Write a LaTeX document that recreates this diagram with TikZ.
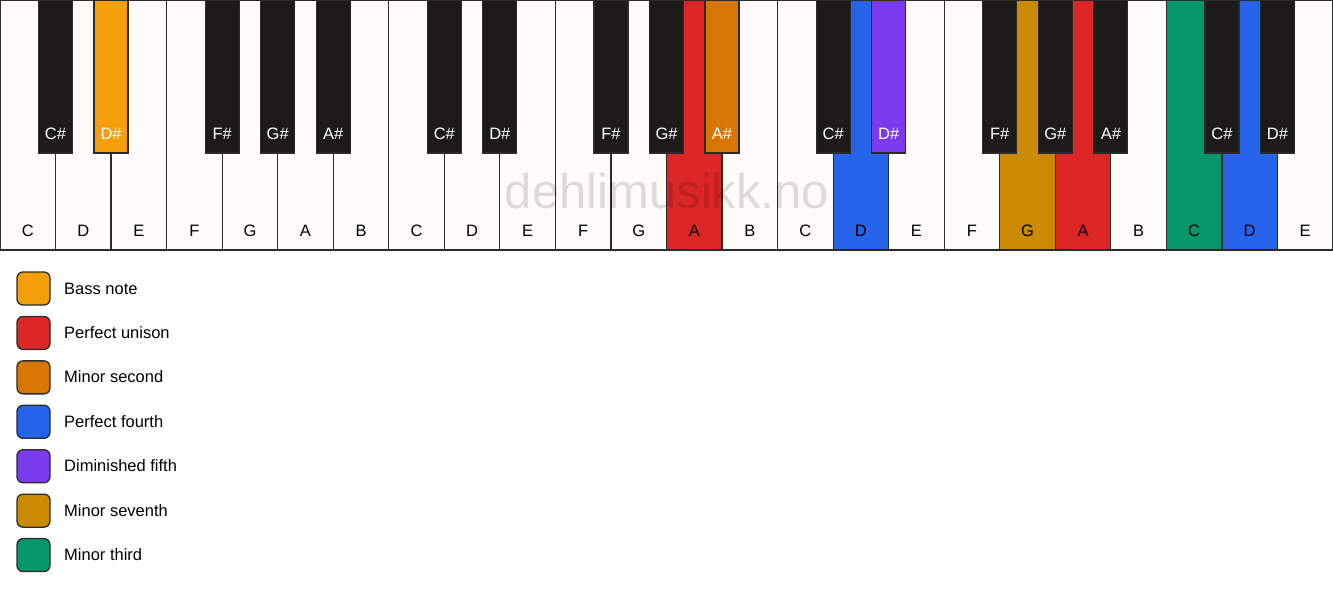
\documentclass[tikz,border=0pt]{standalone}
\usepackage{fontspec}
\setmainfont{Liberation Sans}
\usepackage{xcolor}
\definecolor{keywhite}{HTML}{FDFCF9}
\definecolor{keyblack}{HTML}{1C1B1A}
\definecolor{keyline}{HTML}{2B2B2B}
\definecolor{bass}{HTML}{F59E0B}
\definecolor{unison}{HTML}{DC2626}
\definecolor{minsecond}{HTML}{D97706}
\definecolor{pfourth}{HTML}{2563EB}
\definecolor{dimfifth}{HTML}{7C3AED}
\definecolor{minseventh}{HTML}{CA8A04}
\definecolor{minthird}{HTML}{059669}
\usepackage{tikz}
\usetikzlibrary{positioning}

\begin{document}
\begin{tikzpicture}[x=1pt, y=-1pt, % keyboard in pixels
    every node/.style={font=\fontsize{16.5}{19}\selectfont, inner sep=0pt},
    whitekey/.style={anchor=north west, minimum width=55.54pt,
      minimum height=250pt, outer sep=0pt},
    keyedge/.style={draw=keyline, line width=1.2pt},
    blackkey/.style={draw=keyline, line width=1.2pt, anchor=north,
      minimum width=34pt, minimum height=153pt, outer sep=0pt},
    swatch/.style={draw=keyline, line width=1.3pt, rounded corners=6pt,
      minimum size=33pt}]

      \newcommand\wkw{55.5417}

      \useasboundingbox [fill=white] (0, 0) rectangle (1333, 594);

      \foreach \n/\c [count=\i from 0] in {C/keywhite, D/keywhite, E/keywhite,
        F/keywhite, G/keywhite, A/keywhite, B/keywhite, C/keywhite, D/keywhite,
        E/keywhite, F/keywhite, G/keywhite, A/unison, B/keywhite, C/keywhite,
        D/pfourth, E/keywhite, F/keywhite, G/minseventh, A/unison, B/keywhite,
        C/minthird, D/pfourth, E/keywhite}
      {
        \node [whitekey, fill=\c] (w\i) at ({\i*\wkw}, 0) {};
        \node [anchor=base] (wl\i) at ({(\i+0.5)*\wkw}, 236) {\n};
      }
      \foreach \i in {0,...,23}
        \draw [keyedge] (w\i.north west) rectangle (w\i.south east);

      \node [text=black, text opacity=0.13, font=\fontsize{49}{54}\selectfont]
      (mark) at (667, 191) {dehlimusikk.no};

      \foreach \b/\n/\c in {1/C\#/keyblack, 2/D\#/bass, 4/F\#/keyblack,
        5/G\#/keyblack, 6/A\#/keyblack, 8/C\#/keyblack, 9/D\#/keyblack,
        11/F\#/keyblack, 12/G\#/keyblack, 13/A\#/minsecond, 15/C\#/keyblack,
        16/D\#/dimfifth, 18/F\#/keyblack, 19/G\#/keyblack, 20/A\#/keyblack,
        22/C\#/keyblack, 23/D\#/keyblack}
      {
        \node [blackkey, fill=\c] (b\b) at ({\b*\wkw}, 0) {};
        \node [anchor=base, text=white] (bl\b) at ({\b*\wkw}, 139) {\n};
      }

      \foreach \t/\c [count=\j from 0] in {Bass note/bass,
        Perfect unison/unison, Minor second/minsecond,
        Perfect fourth/pfourth, Diminished fifth/dimfifth,
        Minor seventh/minseventh, Minor third/minthird}
      {
        \node [swatch, fill=\c] (sw\j) at (33.5, {288.5+\j*44.43}) {};
        \node [anchor=base west] (lg\j) at (64, {294+\j*44.43}) {\t};
      }

    \end{tikzpicture}
\end{document}
